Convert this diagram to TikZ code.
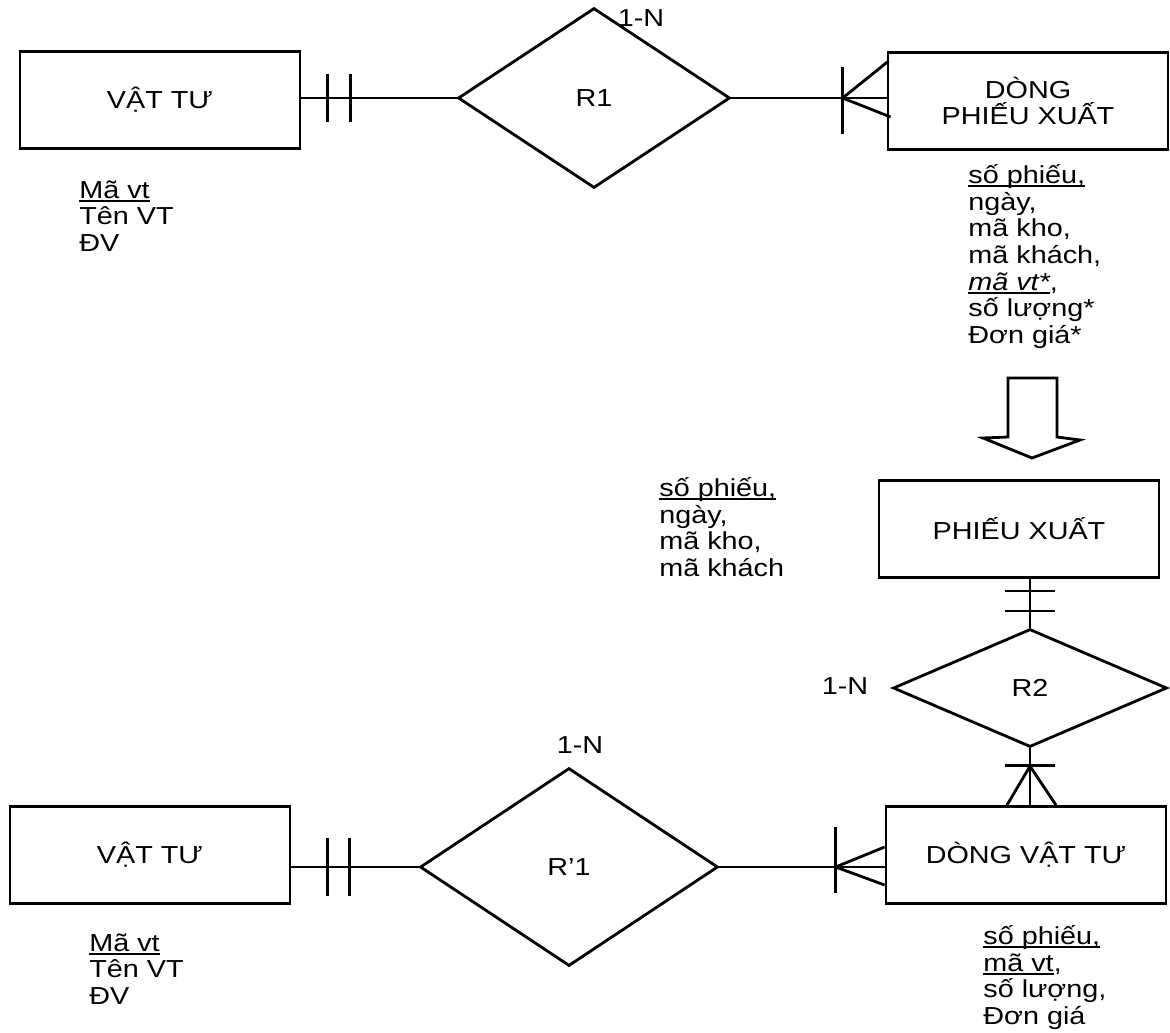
\documentclass[tikz,border=0pt]{standalone}
\usepackage{fontspec}
\setmainfont{Liberation Sans}[FakeStretch=1.17]
\usetikzlibrary{shapes.geometric,calc}

\newcommand\ulin[1]{\setbox0\hbox{#1}\rlap{\rule[-2pt]{\wd0}{0.9pt}}\box0}

\begin{document}
\begin{tikzpicture}[x=0.02cm, y=-0.02cm, line width=1.6pt,
    font=\fontsize{14}{15.2}\selectfont,
    entity/.style={draw, minimum width=5.6cm, minimum height=1.94cm, align=center},
    rel/.style={draw, diamond, inner sep=0pt},
    attr/.style={anchor=north west, align=left, inner sep=0pt}]
    \useasboundingbox (0,0) rectangle (1170,1032);

    % Entities and relations
    \node[entity] (vt1) at (160,100) {VẬT TƯ};
    \node[rel, minimum width=5.44cm, minimum height=3.6cm] (r1) at (594,98) {R1};
    \node[entity] (dpx) at (1028,101) {DÒNG\\PHIẾU XUẤT};
    \node[entity] (px) at (1019,529) {PHIẾU XUẤT};
    \node[rel, minimum width=5.48cm, minimum height=2.36cm] (r2) at (1030,688) {R2};
    \node[entity] (dvt) at (1026,855) {DÒNG VẬT TƯ};
    \node[entity] (vt2) at (150,855) {VẬT TƯ};
    \node[rel, minimum width=5.96cm, minimum height=3.96cm] (rp1) at (569,867) {R’1};

    % Cardinalities
    \node (n1) at (641,18) {1-N};
    \node (n2) at (580,745) {1-N};
    \node (n3) at (845,686) {1-N};

    % Attributes
    \node[attr] (a1) at (78,179) {\ulin{Mã vt}\\Tên VT\\ĐV};
    \node[attr] (a2) at (967,163) {\ulin{số phiếu,}\\ngày,\\mã kho,\\mã khách,\\\ulin{\itshape mã vt*},\\số lượng*\\Đơn giá*};
    \node[attr] (a3) at (658,476) {\ulin{số phiếu,}\\ngày,\\mã kho,\\mã khách};
    \node[attr] (a4) at (88,932) {\ulin{Mã vt}\\Tên VT\\ĐV};
    \node[attr] (a5) at (982,924) {\ulin{số phiếu,}\\\ulin{mã vt},\\số lượng,\\Đơn giá};

    % R1 links
    \coordinate (t1) at (vt1.east |- r1.west);
    \draw (t1) -- (r1.west);
    \draw (t1) ++(26,-24) -- ++(0,48);
    \draw (t1) ++(49,-24) -- ++(0,48);
    \coordinate (c1) at (r1.east -| dpx.west);
    \draw (r1.east) -- (c1);
    \draw (c1) ++(-44,-31) -- ++(0,67);
    \draw (c1) ++(2,-37) -- ++(-46,37) -- ++(48,19);

    % Block arrow
    \draw (1008,378) -- (1057,378) -- (1057,437) -- (1080,440) -- (1032,458) -- (983,438) -- (1008,437) -- cycle;

    % R2 links
    \coordinate (c2) at (px.south -| r2.north);
    \draw (c2) -- (r2.north);
    \draw (c2) ++(-25,12) -- ++(50,0);
    \draw (c2) ++(-25,32) -- ++(50,0);
    \coordinate (c3) at (dvt.north -| r2.south);
    \draw (r2.south) -- (c3);
    \draw (c3) ++(-25,-40) -- ++(50,0);
    \draw (c3) ++(-23,0) -- ++(23,-39) -- ++(26,39);

    % R'1 links
    \coordinate (c4) at (vt2.east |- rp1.west);
    \draw (c4) -- (rp1.west);
    \draw (c4) ++(36,-29) -- ++(0,58);
    \draw (c4) ++(58,-29) -- ++(0,58);
    \coordinate (c5) at (rp1.east -| dvt.west);
    \draw (rp1.east) -- (c5);
    \draw (c5) ++(-49,-40) -- ++(0,66);
    \draw (c5) ++(0,-20) -- ++(-49,20) -- ++(49,18);
\end{tikzpicture}
\end{document}
